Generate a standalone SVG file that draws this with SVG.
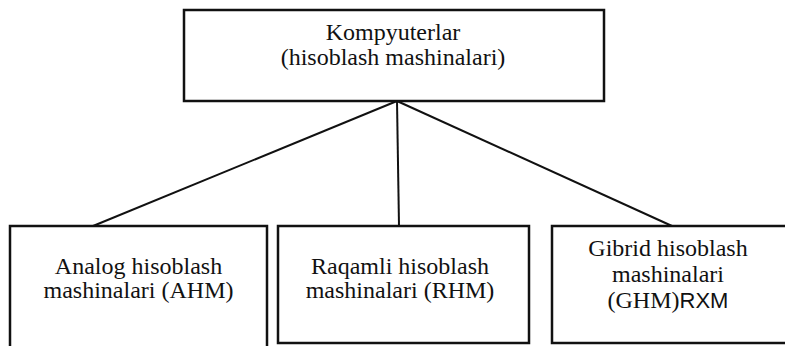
<svg xmlns="http://www.w3.org/2000/svg" width="785" height="346" viewBox="0 0 785 346">
<style>
.box{fill:#fff;stroke:#111;stroke-width:2.5}
text{font-family:'Liberation Serif','Times New Roman',Times,serif;font-size:24px;fill:#111;text-anchor:middle}
.c{stroke:#111;stroke-width:2;fill:none}
</style>
<rect width="785" height="346" fill="#fff"/>
<g id="connectors">
<line class="c" x1="397" y1="101" x2="93" y2="226"/>
<line class="c" x1="397" y1="101" x2="399" y2="226"/>
<line class="c" x1="397" y1="101" x2="672" y2="226"/>
</g>
<g id="node-root">
<rect class="box" x="184" y="10" width="420" height="91"/>
<text x="393" y="40" style="font-family:'Liberation Serif',serif">Kompyuterlar</text>
<text x="393" y="65" style="font-family:'Liberation Serif',serif">(hisoblash mashinalari)</text>
</g>
<g id="node-ahm">
<rect class="box" x="10" y="226" width="257" height="124"/>
<text x="138.5" y="274" style="font-family:'Liberation Serif',serif">Analog hisoblash</text>
<text x="138.5" y="298" style="font-family:'Liberation Serif',serif">mashinalari (AHM)</text>
</g>
<g id="node-rhm">
<rect class="box" x="278" y="226" width="251" height="117"/>
<text x="400" y="274" style="font-family:'Liberation Serif',serif">Raqamli hisoblash</text>
<text x="400" y="298" style="font-family:'Liberation Serif',serif">mashinalari (RHM)</text>
</g>
<g id="node-ghm">
<rect class="box" x="552" y="226" width="240" height="117"/>
<text x="668" y="256" style="font-family:'Liberation Serif',serif">Gibrid hisoblash</text>
<text x="668" y="282" style="font-family:'Liberation Serif',serif">mashinalari</text>
<text x="668" y="308" style="font-family:'Liberation Serif',serif">(GHM)<tspan style="font-family:'Liberation Sans',sans-serif;font-size:22px">RXM</tspan></text>
</g>
</svg>
